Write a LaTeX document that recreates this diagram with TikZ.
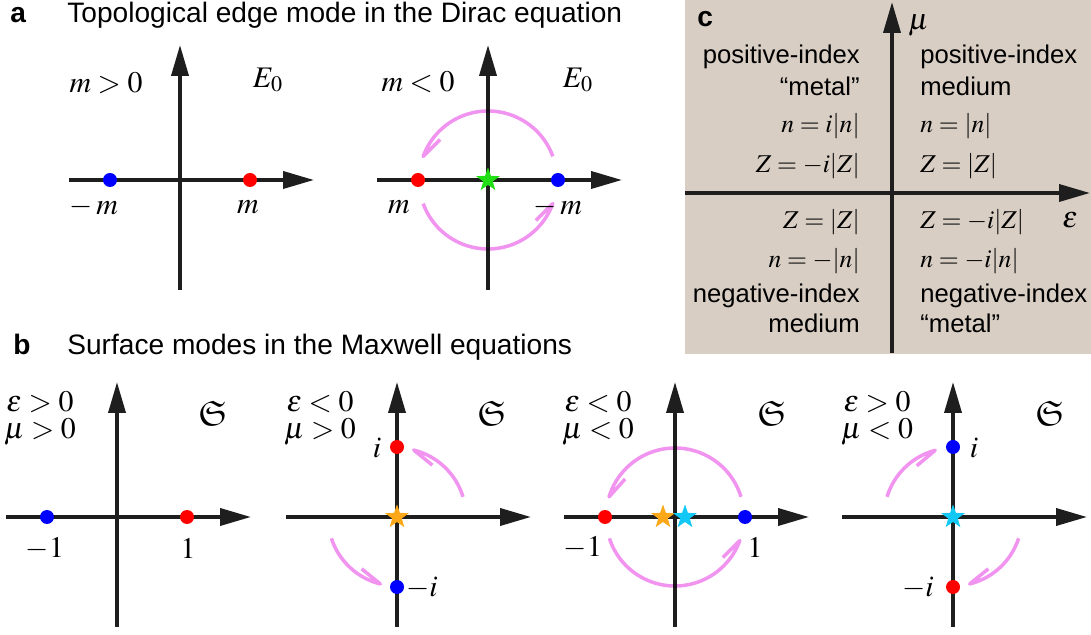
\documentclass[tikz,border=0pt]{standalone}
\usepackage{mathptmx}
\usepackage{amssymb}
\usepackage[no-math]{fontspec}
\setmainfont{Liberation Sans}
\usetikzlibrary{arrows.meta, shapes.geometric, positioning}

\definecolor{arcpink}{RGB}{240,148,240}
\definecolor{panelbeige}{RGB}{216,206,196}
\definecolor{stargreen}{RGB}{34,222,20}
\definecolor{starorange}{RGB}{252,168,24}
\definecolor{starcyan}{RGB}{20,200,245}
\definecolor{axisblack}{RGB}{30,30,30}

\begin{document}
\begin{tikzpicture}[x=0.02cm, y=0.02cm,
    axis/.style={draw=axisblack, line width=2.1pt, -{Triangle[length=0.62cm, width=0.34cm]}},
    dot/.style={circle, inner sep=0pt, minimum size=0.28cm},
    mstar/.style={star, star points=5, star point ratio=2.5, inner sep=0pt, minimum size=0.5cm},
    flow/.style={draw=arcpink, line width=2pt, line join=round, blend mode=multiply},
    lab/.style={font=\fontsize{17}{20}\selectfont, inner sep=0pt},
    cond/.style={lab, anchor=base},
    frak/.style={font=\fontsize{20}{22}\selectfont, inner sep=0pt},
    heading/.style={font=\fontsize{16}{18}\selectfont, anchor=base west, inner sep=0pt},
    letter/.style={heading, font=\fontsize{16}{18}\selectfont\bfseries},
    ctext/.style={font=\fontsize{14.6}{17}\selectfont, inner sep=0pt}]
  \useasboundingbox (0,0) rectangle (1091,635);

  % panel c background
  \fill[panelbeige] (685,281) rectangle (1091,635);

  % titles
  \node[letter] (la) at (10,612) {a};
  \node[heading] (ta) at (67,612) {Topological edge mode in the Dirac equation};
  \node[letter] (lb) at (13,280) {b};
  \node[heading] (tb) at (67,280) {Surface modes in the Maxwell equations};
  \node[letter] (lc) at (697,608) {c};

  % a: m > 0
  \begin{scope}[shift={(180,455)}]
    \coordinate (a1) at (0,0);
    \draw[axis] (-111,0) -- (134,0);
    \draw[axis] (0,-110) -- (0,135);
    \node[dot, fill=blue] (a1l) at (-70,0) {};
    \node[dot, fill=red] (a1r) at (70,0) {};
    \node[lab] (a1ml) at (-86,-27) {$-\,m$};
    \node[lab] (a1mr) at (68,-27) {$m$};
    \node[lab] (a1c) at (-74,97) {$m>0$};
    \node[lab] (a1e) at (88,100) {$E_0$};
  \end{scope}

  % a: m < 0 (barb turned back inside the circle)
  \begin{scope}[shift={(488,455)}]
    \coordinate (a2) at (0,0);
    \draw[axis] (-111,0) -- (134,0);
    \draw[axis] (0,-110) -- (0,135);
    \draw[flow] (a2) ++(20:69) arc[start angle=20, end angle=160, radius=1.38cm] -- ++(45:24);
    \draw[flow] (a2) ++(200:69) arc[start angle=200, end angle=340, radius=1.38cm] -- ++(225:24);
    \node[dot, fill=red] (a2l) at (-70,0) {};
    \node[dot, fill=blue] (a2r) at (70,0) {};
    \node[mstar, fill=stargreen] (a2s) at (0,0) {};
    \node[lab] (a2ml) at (-89,-27) {$m$};
    \node[lab] (a2mr) at (70,-27) {$-\,m$};
    \node[lab] (a2c) at (-70,98) {$m<0$};
    \node[lab] (a2e) at (90,100) {$E_0$};
  \end{scope}

  % c: index quadrants
  \draw[axis] (685,442) -- (1090,442);
  \draw[axis] (892,282) -- (892,633);
  \node[ctext, font=\fontsize{17}{20}\selectfont, anchor=base west] (cmu) at (908,605) {$\mu$};
  \node[ctext, font=\fontsize{17}{20}\selectfont, anchor=base west] (ceps) at (1062,407) {$\varepsilon$};
  \node[ctext, anchor=base east] (c1a) at (860,571) {positive-index};
  \node[ctext, anchor=base east] (c1b) at (860,539) {“metal”};
  \node[ctext, anchor=base east] (c1c) at (860,502) {$n=i|n|$};
  \node[ctext, anchor=base east] (c1d) at (860,462) {$Z=-i|Z|$};
  \node[ctext, anchor=base west] (c2a) at (920,571) {positive-index};
  \node[ctext, anchor=base west] (c2b) at (920,539) {medium};
  \node[ctext, anchor=base west] (c2c) at (920,502) {$n=|n|$};
  \node[ctext, anchor=base west] (c2d) at (920,462) {$Z=|Z|$};
  \node[ctext, anchor=base east] (c3a) at (860,406) {$Z=|Z|$};
  \node[ctext, anchor=base east] (c3b) at (860,367) {$n=-|n|$};
  \node[ctext, anchor=base east] (c3c) at (860,332) {negative-index};
  \node[ctext, anchor=base east] (c3d) at (860,302) {medium};
  \node[ctext, anchor=base west] (c4a) at (920,406) {$Z=-i|Z|$};
  \node[ctext, anchor=base west] (c4b) at (920,367) {$n=-i|n|$};
  \node[ctext, anchor=base west] (c4c) at (920,332) {negative-index};
  \node[ctext, anchor=base west] (c4d) at (920,302) {“metal”};

  % b: eps > 0, mu > 0
  \begin{scope}[shift={(117,118)}]
    \coordinate (b1) at (0,0);
    \draw[axis] (-111,0) -- (134,0);
    \draw[axis] (0,-110) -- (0,135);
    \node[dot, fill=blue] (b1l) at (-70,0) {};
    \node[dot, fill=red] (b1r) at (70,0) {};
    \node[lab] (b1ml) at (-72,-32) {$-1$};
    \node[lab] (b1mr) at (71,-32) {$1$};
    \node[cond] (b1e) at (-77,105) {$\varepsilon>0$};
    \node[cond] (b1u) at (-77,78) {$\mu>0$};
    \node[frak] (b1s) at (96,104) {$\mathfrak{S}$};
  \end{scope}

  % b: eps < 0, mu > 0
  \begin{scope}[shift={(397,118)}]
    \coordinate (b2) at (0,0);
    \draw[axis] (-111,0) -- (134,0);
    \draw[axis] (0,-110) -- (0,135);
    \draw[flow] (b2) ++(17:69) arc[start angle=17, end angle=76, radius=1.38cm] -- ++(321:24);
    \draw[flow] (b2) ++(198:69) arc[start angle=198, end angle=256, radius=1.38cm] -- ++(141:24);
    \node[dot, fill=red] (b2t) at (0,70) {};
    \node[dot, fill=blue] (b2b) at (0,-70) {};
    \node[mstar, fill=starorange] (b2s) at (0,0) {};
    \node[lab] (b2it) at (-20,69) {$i$};
    \node[lab] (b2ib) at (25,-71) {$-i$};
    \node[cond] (b2e) at (-77,105) {$\varepsilon<0$};
    \node[cond] (b2u) at (-77,78) {$\mu>0$};
    \node[frak] (b2f) at (95,104) {$\mathfrak{S}$};
  \end{scope}

  % b: eps < 0, mu < 0
  \begin{scope}[shift={(675,118)}]
    \coordinate (b3) at (0,0);
    \draw[axis] (-111,0) -- (134,0);
    \draw[axis] (0,-110) -- (0,135);
    \draw[flow] (b3) ++(17:69) arc[start angle=17, end angle=163, radius=1.38cm] -- ++(48:24);
    \draw[flow] (b3) ++(198:69) arc[start angle=198, end angle=340, radius=1.38cm] -- ++(225:24);
    \node[dot, fill=red] (b3l) at (-70,0) {};
    \node[dot, fill=blue] (b3r) at (70,0) {};
    \node[mstar, fill=starorange] (b3so) at (-12,0) {};
    \node[mstar, fill=starcyan] (b3sc) at (10,0) {};
    \node[lab] (b3ml) at (-92,-31) {$-1$};
    \node[lab] (b3mr) at (80,-31) {$1$};
    \node[cond] (b3e) at (-77,105) {$\varepsilon<0$};
    \node[cond] (b3u) at (-77,78) {$\mu<0$};
    \node[frak] (b3f) at (97,104) {$\mathfrak{S}$};
  \end{scope}

  % b: eps > 0, mu < 0 (clockwise)
  \begin{scope}[shift={(953,118)}]
    \coordinate (b4) at (0,0);
    \draw[axis] (-111,0) -- (134,0);
    \draw[axis] (0,-110) -- (0,135);
    \draw[flow] (b4) ++(163:69) arc[start angle=163, end angle=105, radius=1.38cm] -- ++(220:24);
    \draw[flow] (b4) ++(-18:69) arc[start angle=-18, end angle=-76, radius=1.38cm] -- ++(39:24);
    \node[dot, fill=blue] (b4t) at (0,70) {};
    \node[dot, fill=red] (b4b) at (0,-70) {};
    \node[mstar, fill=starcyan] (b4s) at (0,0) {};
    \node[lab] (b4it) at (21,69) {$i$};
    \node[lab] (b4ib) at (-35,-71) {$-i$};
    \node[cond] (b4e) at (-76,105) {$\varepsilon>0$};
    \node[cond] (b4u) at (-76,78) {$\mu<0$};
    \node[frak] (b4f) at (97,104) {$\mathfrak{S}$};
  \end{scope}
\end{tikzpicture}
\end{document}
